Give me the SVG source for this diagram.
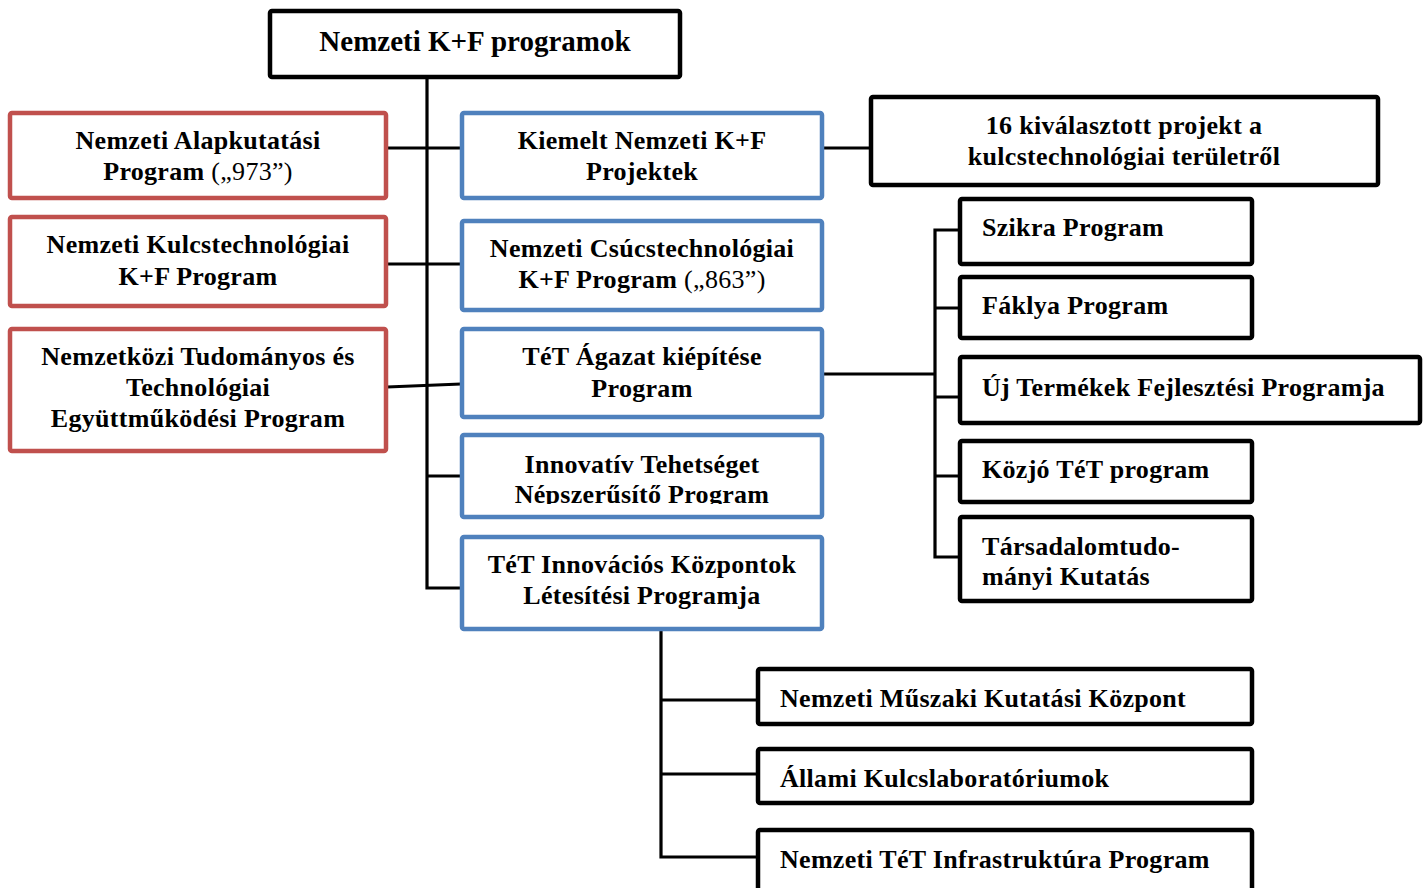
<svg xmlns="http://www.w3.org/2000/svg" width="1427" height="888" viewBox="0 0 1427 888">
<style>
.bk{fill:#fff;stroke:#000;stroke-width:4.5}
.rd{fill:#fff;stroke:#c0504d;stroke-width:4.5}
.bl{fill:#fff;stroke:#4f81bd;stroke-width:4.5}
.cn{fill:none;stroke:#000;stroke-width:3.2}
text{font-family:"Liberation Serif","Times New Roman",serif;font-weight:bold;font-size:26px;letter-spacing:0.3px;fill:#000}
.c{text-anchor:middle}
.n{font-weight:normal}
.t{font-size:29px;letter-spacing:0}
</style>
<defs>
<clipPath id="clipInnov"><rect x="462" y="435" width="360" height="69"/></clipPath>
</defs>
<rect width="1427" height="888" fill="#fff"/>
<g id="connectors">
<path class="cn" d="M427,78 V588 H461"/>
<path class="cn" d="M387,148 H461"/>
<path class="cn" d="M387,264 H461"/>
<path class="cn" d="M387,387 L461,384"/>
<path class="cn" d="M427,476 H461"/>
<path class="cn" d="M823,148 H870"/>
<path class="cn" d="M823,374 H935"/>
<path class="cn" d="M958,230 H935 V557 H958"/>
<path class="cn" d="M935,308 H958 M935,397 H958 M935,476 H958"/>
<path class="cn" d="M661,630 V857 H757 M661,700 H757 M661,774 H757"/>
</g>
<g id="root"><rect class="bk" x="270" y="11" width="410" height="66" rx="2"/><text class="c t" x="475" y="51">Nemzeti K+F programok</text></g>
<g id="alapkutatasi"><rect class="rd" x="10" y="113" width="376" height="85" rx="2"/><text class="c" x="198" y="149">Nemzeti Alapkutatási</text><text class="c" x="198" y="180">Program <tspan class="n">(„973”)</tspan></text></g>
<g id="kulcstech"><rect class="rd" x="10" y="217" width="376" height="89" rx="2"/><text class="c" x="198" y="253">Nemzeti Kulcstechnológiai</text><text class="c" x="198" y="285">K+F Program</text></g>
<g id="nemzetkozi"><rect class="rd" x="10" y="329" width="376" height="122" rx="2"/><text class="c" x="198" y="365">Nemzetközi Tudományos és</text><text class="c" x="198" y="396">Technológiai</text><text class="c" x="198" y="427">Együttműködési Program</text></g>
<g id="kiemelt"><rect class="bl" x="462" y="113" width="360" height="85" rx="2"/><text class="c" x="642" y="149">Kiemelt Nemzeti K+F</text><text class="c" x="642" y="180">Projektek</text></g>
<g id="csucstech"><rect class="bl" x="462" y="221" width="360" height="89" rx="2"/><text class="c" x="642" y="257">Nemzeti Csúcstechnológiai</text><text class="c" x="642" y="288">K+F Program <tspan class="n">(„863”)</tspan></text></g>
<g id="agazat"><rect class="bl" x="462" y="329" width="360" height="88" rx="2"/><text class="c" x="642" y="365">TéT Ágazat kiépítése</text><text class="c" x="642" y="397">Program</text></g>
<g id="innovativ"><rect class="bl" x="462" y="435" width="360" height="82" rx="2"/><text class="c" x="642" y="473">Innovatív Tehetséget</text><text class="c" x="642" y="503" clip-path="url(#clipInnov)">Népszerűsítő Program</text></g>
<g id="kozpontok"><rect class="bl" x="462" y="537" width="360" height="92" rx="2"/><text class="c" x="642" y="573">TéT Innovációs Központok</text><text class="c" x="642" y="604">Létesítési Programja</text></g>
<g id="projekt16"><rect class="bk" x="871" y="97" width="507" height="88" rx="2"/><text class="c" x="1124" y="134">16 kiválasztott projekt a</text><text class="c" x="1124" y="165">kulcstechnológiai területről</text></g>
<g id="szikra"><rect class="bk" x="960" y="199" width="292" height="65" rx="2"/><text x="982" y="236">Szikra Program</text></g>
<g id="faklya"><rect class="bk" x="960" y="277" width="292" height="61" rx="2"/><text x="982" y="314">Fáklya Program</text></g>
<g id="ujtermekek"><rect class="bk" x="960" y="357" width="460" height="66" rx="2"/><text x="982" y="396">Új Termékek Fejlesztési Programja</text></g>
<g id="kozjo"><rect class="bk" x="960" y="441" width="292" height="61" rx="2"/><text x="982" y="478">Közjó TéT program</text></g>
<g id="tarsadalom"><rect class="bk" x="960" y="517" width="292" height="84" rx="2"/><text x="982" y="555">Társadalomtudo-</text><text x="982" y="585">mányi Kutatás</text></g>
<g id="muszaki"><rect class="bk" x="758" y="669" width="494" height="55" rx="2"/><text x="780" y="707">Nemzeti Műszaki Kutatási Központ</text></g>
<g id="kulcslab"><rect class="bk" x="758" y="749" width="494" height="54" rx="2"/><text x="780" y="787">Állami Kulcslaboratóriumok</text></g>
<g id="infrastruktura"><rect class="bk" x="758" y="830" width="494" height="70" rx="2"/><text x="780" y="868">Nemzeti TéT Infrastruktúra Program</text></g>
</svg>
